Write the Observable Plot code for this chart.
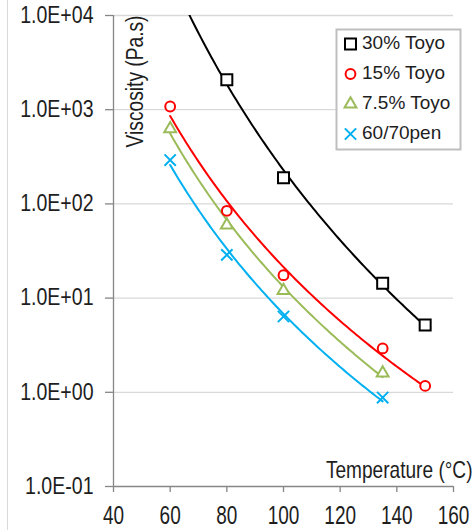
<!DOCTYPE html>
<html><head><meta charset="utf-8">
<script src="https://cdn.jsdelivr.net/npm/d3@7"></script>
<script src="https://cdn.jsdelivr.net/npm/@observablehq/plot@0.6"></script>
<style>
html,body{margin:0;padding:0;background:#fff;}
#wrap{position:relative;width:474px;height:532px;overflow:hidden;background:#fff;}
#border{position:absolute;left:7px;top:0;width:1px;height:530px;background:#d9d9d9;}
#wrap svg{position:absolute;left:0;top:0;}
</style></head><body><div id="wrap"><div id="border"></div></div>
<script>
// ---- data ----
const seriesNames   = ["30% Toyo", "15% Toyo", "7.5% Toyo", "60/70pen"];
const seriesColors  = ["#000000", "#ff0000", "#9bbb59", "#00b0f0"];
const seriesSymbols = ["square", "circle", "triangle", "times"];
const symbolRadius  = [6.2, 4.9, 4.4, 5.2];

const temps30  = [80, 100, 135, 150];
const visc30   = [2075, 190, 14.4, 5.17];
const temps15  = [60, 80, 100, 135, 150];
const visc15   = [1081, 84.5, 17.5, 2.92, 1.17];
const temps75  = [60, 80, 100, 135];
const visc75   = [627, 59.6, 12.0, 1.6];
const tempsPen = [60, 80, 100, 135];
const viscPen  = [292, 28.8, 6.38, 0.88];

const xTicks = [40, 60, 80, 100, 120, 140, 160];
const yTicks = [0.1, 1, 10, 100, 1000, 10000];
const yTickLabels = ["1.0E-01", "1.0E+00", "1.0E+01", "1.0E+02", "1.0E+03", "1.0E+04"];
const xLabel = "Temperature (°C)";
const yLabel = "Viscosity (Pa.s)";

// ---- build tables ----
const seriesTemps = [temps30, temps15, temps75, tempsPen];
const seriesVisc  = [visc30, visc15, visc75, viscPen];
const points = seriesNames.flatMap((name, i) =>
  seriesTemps[i].map((T, j) => ({series: name, T, v: seriesVisc[i][j]})));

// power-law trendlines (as in the spreadsheet): ln v = a + b ln T, fitted to each series
const tStart = d3.min(points, d => d.T);
const trend = seriesNames.flatMap((name, i) => {
  const lx = seriesTemps[i].map(Math.log), ly = seriesVisc[i].map(Math.log);
  const mx = d3.mean(lx), my = d3.mean(ly);
  const b = d3.sum(lx, (x, k) => (x - mx) * (ly[k] - my)) / d3.sum(lx, x => (x - mx) ** 2);
  const a = my - b * mx;
  const tEnd = d3.max(seriesTemps[i]);
  return d3.range(0, 101).map(k => {
    const T = tStart + (tEnd - tStart) * k / 100;
    return {series: name, T, v: Math.exp(a + b * Math.log(T))};
  });
});

const legendCenters = [43.5, 73.5, 103.5, 133.5];
const axisGray = "#868686", textColor = "#1e1e1e";

const chart = Plot.plot({
  width: 474, height: 532,
  marginLeft: 113, marginRight: 21, marginTop: 15, marginBottom: 46,
  style: {fontFamily: "'Liberation Sans', Arial, sans-serif", background: "transparent", overflow: "visible"},
  x: {domain: [40, 160]},
  y: {type: "log", domain: [0.1, 10000]},
  color: {domain: seriesNames, range: seriesColors},
  marks: [
    Plot.gridY(yTicks.slice(1), {stroke: "#d9d9d9", strokeOpacity: 1, strokeWidth: 1.3}),
    Plot.ruleX([40], {stroke: axisGray, strokeWidth: 1.3}),
    Plot.ruleY([0.1], {stroke: axisGray, strokeWidth: 1.3}),
    Plot.axisY(yTicks, {anchor: "left", label: null, tickSize: 8, tickPadding: 12,
      stroke: axisGray, strokeWidth: 1.3, fill: textColor, fontSize: 23,
      tickFormat: d => yTickLabels[yTicks.indexOf(d)]}),
    Plot.axisX(xTicks, {anchor: "bottom", label: null, tickSize: 6, tickPadding: 14,
      stroke: axisGray, strokeWidth: 1.3, fill: textColor, fontSize: 25, tickFormat: d => String(d)}),
    Plot.line(trend, {x: "T", y: "v", z: "series", stroke: "series", strokeWidth: 2, clip: true}),
    ...seriesNames.map((name, i) => Plot.dot(points.filter(d => d.series === name), {
      x: "T", y: "v", symbol: seriesSymbols[i], r: symbolRadius[i],
      stroke: seriesColors[i], fill: seriesSymbols[i] === "times" ? "none" : "white", strokeWidth: 2})),
    Plot.text([yLabel], {frameAnchor: "top-left", rotate: -90, textAnchor: "end",
      lineAnchor: "bottom", dx: 29, dy: 0, fontSize: 23, fill: textColor}),
    Plot.text([xLabel], {frameAnchor: "bottom-right", textAnchor: "end",
      lineAnchor: "bottom", dx: 19, dy: -9, fontSize: 23, fill: textColor}),
    // legend box
    Plot.frame({fill: "white", stroke: "#bfbfbf", strokeWidth: 2,
      insetLeft: 223, insetTop: 14, insetRight: -7, insetBottom: 337}),
    ...seriesNames.flatMap((name, i) => [
      Plot.dot([name], {frameAnchor: "top-left", dx: 237, dy: legendCenters[i] - 15,
        symbol: seriesSymbols[i], r: symbolRadius[i], stroke: seriesColors[i],
        fill: seriesSymbols[i] === "times" ? "none" : "white", strokeWidth: 2}),
      Plot.text([name], {frameAnchor: "top-left", dx: 248.5, dy: legendCenters[i] - 15 + 5,
        textAnchor: "start", lineAnchor: "bottom", fontSize: 19, fill: textColor})
    ])
  ]
});

// horizontally condense the axis texts (the reference uses a narrow rendering)
function squeeze(contents, sx) {
  chart.querySelectorAll("text").forEach(t => {
    if (contents.includes(t.textContent)) {
      const tr = t.getAttribute("transform") || "";
      t.setAttribute("transform", tr + ` scale(${sx},1)`);
    }
  });
}
squeeze(yTickLabels, 0.85);
squeeze(xTicks.map(String), 0.76);
squeeze([yLabel], 0.835);
squeeze([xLabel], 0.83);

document.getElementById("wrap").appendChild(chart);
</script>
</body></html>
